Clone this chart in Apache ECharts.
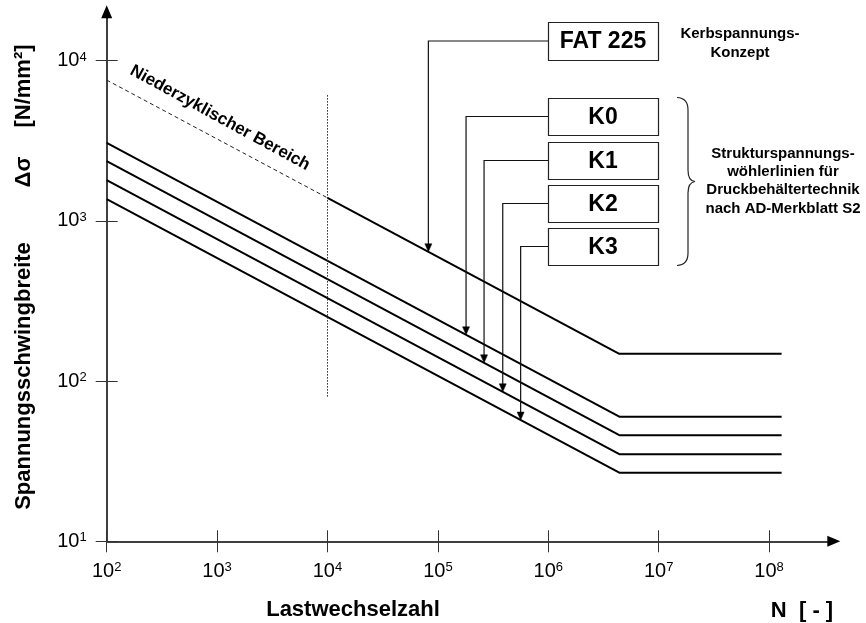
<!DOCTYPE html>
<html><head><meta charset="utf-8">
<script src="https://cdn.jsdelivr.net/npm/echarts@6/dist/echarts.min.js"></script>
<style>html,body{margin:0;padding:0;background:#fff}#c{width:866px;height:623px}</style>
</head><body><div id="c"></div>
<script>
// ---- data ----
const xTicks = [1e2, 1e3, 1e4, 1e5, 1e6, 1e7, 1e8];
const yTicks = [1e1, 1e2, 1e3, 1e4];
const curveN = [1e2, 4.4e6, 1.3e8];
const fatN = [1e4, 4.4e6, 1.3e8];
const fatValues = [1393, 148, 148];
const k0Values = [3070, 60, 60];
const k1Values = [2360, 46, 46];
const k2Values = [1800, 35, 35];
const k3Values = [1370, 26.8, 26.8];
const lowCycleN = [1e2, 1e4];
const lowCycleValues = [7570, 1393];
const boundaryN = [1e4, 1e4];
const boundaryValues = [6100, 79];
const boxLabels = ['FAT 225', 'K0', 'K1', 'K2', 'K3'];
const arrowN = [8.2e4, 1.8e5, 2.62e5, 3.87e5, 5.62e5];

const FONT = '"Liberation Sans", Arial, sans-serif';
const pairs = (ns, vs) => ns.map((n, i) => [n, vs[i]]);

function expLabel(v) {
  const e = Math.round(Math.log10(v));
  return '{b|10}{s|' + e + '}';
}
const rich = {
  b: { fontSize: 20, fontFamily: FONT, color: '#000', lineHeight: 24, verticalAlign: 'middle' },
  s: { fontSize: 13, fontFamily: FONT, color: '#000', lineHeight: 13, verticalAlign: 'top', padding: [2, 0, 0, 0] }
};

const chart = echarts.init(document.getElementById('c'), null, { renderer: 'canvas' });

const lineSeries = (name, data, style) => ({
  name, type: 'line', data, symbol: 'none', showSymbol: false, silent: true,
  animation: false, lineStyle: Object.assign({ color: '#000', width: 2 }, style || {}), z: 3
});

chart.setOption({
  animation: false,
  grid: { left: 106.7, right: 38.7, top: 18.3, bottom: 81.7, containLabel: false },
  xAxis: [
    {
      type: 'log', logBase: 10, min: 100, max: 3.37e8, position: 'bottom',
      axisLine: { onZero: false, lineStyle: { color: '#000', width: 1.5 }, symbol: ['none', 'triangle'], symbolSize: [11, 13], symbolOffset: [0, 6.5] },
      axisTick: { show: true, length: 11, customValues: xTicks, lineStyle: { color: '#333', width: 1 } },
      axisLabel: { customValues: xTicks, formatter: expLabel, rich, margin: 18 },
      splitLine: { show: false }, minorTick: { show: false }
    },
    {
      type: 'log', logBase: 10, min: 100, max: 3.37e8, position: 'bottom',
      axisLine: { show: false, onZero: false },
      axisTick: { show: true, inside: true, length: 11, customValues: xTicks, lineStyle: { color: '#333', width: 1 } },
      axisLabel: { show: false }, splitLine: { show: false }
    }
  ],
  yAxis: [
    {
      type: 'log', logBase: 10, min: 10, max: 1.84e4, position: 'left',
      axisLine: { onZero: false, lineStyle: { color: '#000', width: 1.5 }, symbol: ['none', 'triangle'], symbolSize: [11, 13], symbolOffset: [0, 6.5] },
      axisTick: { show: true, length: 11, customValues: yTicks, lineStyle: { color: '#333', width: 1 } },
      axisLabel: { customValues: yTicks, formatter: expLabel, rich, margin: 20 },
      splitLine: { show: false }, minorTick: { show: false }
    },
    {
      type: 'log', logBase: 10, min: 10, max: 1.84e4, position: 'left',
      axisLine: { show: false, onZero: false },
      axisTick: { show: true, inside: true, length: 11, customValues: yTicks, lineStyle: { color: '#333', width: 1 } },
      axisLabel: { show: false }, splitLine: { show: false }
    }
  ],
  series: [
    lineSeries('FAT 225', pairs(fatN, fatValues)),
    lineSeries('K0', pairs(curveN, k0Values)),
    lineSeries('K1', pairs(curveN, k1Values)),
    lineSeries('K2', pairs(curveN, k2Values)),
    lineSeries('K3', pairs(curveN, k3Values)),
    lineSeries('Niederzyklisch', pairs(lowCycleN, lowCycleValues), { width: 1, type: [4, 3], color: '#222' }),
    lineSeries('Grenze', pairs(boundaryN, boundaryValues), { width: 1, type: [1.5, 1.5], color: '#222' })
  ]
});

// ---- annotations ----
function valueAt(ns, vs, n) {
  const ln = Math.log10(n);
  for (let i = 0; i < ns.length - 1; i++) {
    const a = Math.log10(ns[i]), b = Math.log10(ns[i + 1]);
    if (ln >= a && ln <= b) {
      const t = (ln - a) / (b - a);
      return Math.pow(10, Math.log10(vs[i]) + t * (Math.log10(vs[i + 1]) - Math.log10(vs[i])));
    }
  }
  return vs[vs.length - 1];
}
const curveSets = [[fatN, fatValues], [curveN, k0Values], [curveN, k1Values], [curveN, k2Values], [curveN, k3Values]];
const boxes = [
  { x: 548, y: 22, w: 110, h: 38 },
  { x: 548, y: 98, w: 110, h: 37 },
  { x: 548, y: 142, w: 110, h: 37 },
  { x: 548, y: 185, w: 110, h: 37 },
  { x: 548, y: 228, w: 110, h: 37 }
];
const g = [];
boxes.forEach((bx, i) => {
  const [ns, vs] = curveSets[i];
  const tip = chart.convertToPixel({ xAxisIndex: 0, yAxisIndex: 0 }, [arrowN[i], valueAt(ns, vs, arrowN[i])]);
  const cy = bx.y + bx.h / 2;
  const ah = 8, aw = 3.5;
  g.push({ type: 'polyline', silent: true, z: 10, shape: { points: [[bx.x, cy], [tip[0], cy], [tip[0], tip[1] - ah + 1]] }, style: { stroke: '#111', lineWidth: 1.2, fill: null } });
  g.push({ type: 'polygon', silent: true, z: 10, shape: { points: [[tip[0] - aw, tip[1] - ah], [tip[0] + aw, tip[1] - ah], [tip[0], tip[1]]] }, style: { fill: '#000', stroke: '#000', lineWidth: 0.5 } });
  g.push({ type: 'rect', silent: true, z: 10, shape: { x: bx.x + 0.5, y: bx.y + 0.5, width: bx.w, height: bx.h }, style: { fill: '#fff', stroke: '#222', lineWidth: 1.2 } });
  g.push({ type: 'text', silent: true, z: 11, x: bx.x + bx.w / 2, y: cy + 1, style: { text: boxLabels[i], font: 'bold 23px ' + FONT, fill: '#000', align: 'center', verticalAlign: 'middle' } });
});
// brace
const braceStyle = { stroke: '#222', lineWidth: 1.2, fill: null };
g.push({ type: 'bezierCurve', silent: true, z: 10, shape: { x1: 677, y1: 97.5, x2: 688, y2: 110, cpx1: 688, cpy1: 98 }, style: braceStyle });
g.push({ type: 'line', silent: true, z: 10, shape: { x1: 688, y1: 110, x2: 688, y2: 170 }, style: braceStyle });
g.push({ type: 'bezierCurve', silent: true, z: 10, shape: { x1: 688, y1: 170, x2: 695, y2: 181.5, cpx1: 688, cpy1: 181 }, style: braceStyle });
g.push({ type: 'bezierCurve', silent: true, z: 10, shape: { x1: 695, y1: 181.5, x2: 688, y2: 193, cpx1: 688, cpy1: 182.5 }, style: braceStyle });
g.push({ type: 'line', silent: true, z: 10, shape: { x1: 688, y1: 193, x2: 688, y2: 253 }, style: braceStyle });
g.push({ type: 'bezierCurve', silent: true, z: 10, shape: { x1: 688, y1: 253, x2: 677, y2: 265.5, cpx1: 688, cpy1: 265 }, style: braceStyle });

const txt = (text, x, y, size, extra) => Object.assign({ type: 'text', silent: true, z: 11, x, y, style: Object.assign({ text, font: 'bold ' + size + 'px ' + FONT, fill: '#000', align: 'center', verticalAlign: 'middle' }, (extra && extra.style) || {}) }, extra && extra.el || {});
g.push(txt('Kerbspannungs-\nKonzept', 740, 43, 15, { style: { lineHeight: 19 } }));
g.push(txt('Strukturspannungs-\nwöhlerlinien für\nDruckbehältertechnik\nnach AD-Merkblatt S2', 783, 181, 15, { style: { lineHeight: 18.3 } }));
g.push(txt('Lastwechselzahl', 353, 610, 22));
g.push(txt('N  [ - ]', 802, 611, 22));
g.push(txt('Spannungsschwingbreite', 24, 376, 22, { el: { rotation: Math.PI / 2 } }));
g.push(txt('Δσ', 24, 172, 22, { el: { rotation: Math.PI / 2 } }));
g.push(txt('[N/mm²]', 24, 86, 22, { el: { rotation: Math.PI / 2 } }));
g.push(txt('Niederzyklischer Bereich', 220, 118, 17, { el: { rotation: -0.5 } }));

chart.setOption({ graphic: g });
</script>
</body></html>
